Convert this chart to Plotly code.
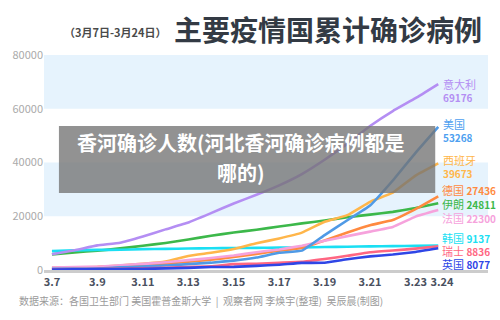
import plotly.graph_objects as go

dates = ["3.7", "3.8", "3.9", "3.10", "3.11", "3.12", "3.13", "3.14", "3.15",
         "3.16", "3.17", "3.18", "3.19", "3.20", "3.21", "3.22", "3.23", "3.24"]
tick_labels = ["3.7", "3.9", "3.11", "3.13", "3.15", "3.17", "3.19", "3.21", "3.23", "3.24"]

italy = [5883, 7375, 9172, 10149, 12462, 15113, 17660, 21157, 24747, 27980, 31506, 35713, 41035, 47021, 53578, 59138, 63927, 69176]
usa = [402, 518, 583, 959, 1281, 1663, 2179, 2727, 3499, 4632, 6421, 7200, 13000, 18500, 24000, 33300, 43600, 53268]
spain = [500, 673, 1073, 1695, 2277, 3146, 5232, 6391, 7798, 9942, 11748, 13910, 17963, 20410, 25374, 28768, 35136, 39673]
germany = [795, 902, 1139, 1296, 1567, 2369, 3062, 3795, 4838, 6012, 7156, 8198, 10999, 13957, 16662, 18610, 22672, 27436]
iran = [5823, 6566, 7161, 8042, 9000, 10075, 11364, 12729, 13938, 14991, 16169, 17361, 18407, 19644, 20610, 21638, 23049, 24811]
france = [949, 1126, 1209, 1784, 2281, 2876, 3661, 4469, 5380, 6633, 7652, 9043, 10871, 12612, 14282, 16018, 19856, 22300]
korea = [7041, 7314, 7478, 7513, 7755, 7869, 7979, 8086, 8162, 8236, 8320, 8413, 8565, 8652, 8799, 8897, 8961, 9137]
swiss = [268, 337, 374, 491, 652, 858, 1139, 1359, 2200, 2330, 2700, 3028, 4075, 5294, 6575, 7245, 7948, 8836]
uk = [209, 275, 322, 384, 459, 590, 802, 1144, 1145, 1551, 1960, 2642, 2716, 4014, 5067, 5745, 6726, 8077]

names = ["意大利", "美国", "西班牙", "德国", "伊朗", "法国", "韩国", "瑞士", "英国"]
series = [italy, usa, spain, germany, iran, france, korea, swiss, uk]
colors = ["#b48ef3", "#4f9ae6", "#ffb64a", "#ff8a40", "#3cb84a", "#f6a2dc", "#1adff3", "#ff6682", "#2f46e6"]
label_colors = ["#b48ef3", "#4da0f0", "#ffb64a", "#ff8a40", "#3cb84a", "#f6a2dc", "#1adff3", "#ff6682", "#2f46e6"]

FONT = "Noto Sans CJK SC"

# pixel helpers (plot area: x 42..488, y 55..270)
L, R, T, B = 42, 488, 55, 270
def px(x):
    return (x - L) / (R - L)
def py(y):
    return (B - y) / (B - T)

fig = go.Figure()
xs = list(range(len(dates)))
order = [4, 6, 0, 2, 3, 5, 1, 7, 8]
for i in order:
    fig.add_trace(go.Scatter(
        x=xs, y=series[i], mode="lines", name=names[i],
        line=dict(color=colors[i], width=2.6, shape="spline", smoothing=0.3),
        hoverinfo="skip", showlegend=False))

tickvals = [dates.index(t) for t in tick_labels]
ticktext = ["<b>%s</b>" % t for t in tick_labels]
ticktext[-1] = "\u00a0\u00a0\u00a0<b>%s</b>" % tick_labels[-1]

# alternating bands
shapes = []
for y0, y1 in [(60000, 80000), (20000, 40000)]:
    shapes.append(dict(type="rect", xref="paper", yref="y", x0=0, x1=1, y0=y0, y1=y1,
                       fillcolor="#e6f3fd", line=dict(width=0), layer="below"))
# overlay box
shapes.append(dict(type="rect", xref="paper", yref="paper",
                   x0=px(57), x1=px(435), y0=py(193), y1=py(126),
                   fillcolor="rgba(115,115,115,0.78)", line=dict(width=0), layer="above"))

annotations = []
# titles
annotations.append(dict(text="<b>（3月7日-3月24日）</b>", x=px(114), y=py(32), xref="paper", yref="paper",
                        xanchor="center", yanchor="middle", showarrow=False,
                        font=dict(family=FONT, size=11, color="#4a4a4a")))
annotations.append(dict(text="<b>主要疫情国累计确诊病例</b>", x=px(327), y=py(29), xref="paper", yref="paper",
                        xanchor="center", yanchor="middle", showarrow=False,
                        font=dict(family=FONT, size=28, color="#333a44")))
# footer
annotations.append(dict(text="数据来源：各国卫生部门 美国霍普金斯大学  |  观察者网 李焕宇(整理)  吴辰晨(制图)",
                        x=px(15), y=py(300), xref="paper", yref="paper",
                        xanchor="left", yanchor="middle", showarrow=False,
                        font=dict(family=FONT, size=10, color="#9a9a9a")))
# overlay text
annotations.append(dict(text="<b>香河确诊人数(河北香河确诊病例都是</b>", x=px(240), y=py(142), xref="paper", yref="paper",
                        xanchor="center", yanchor="middle", showarrow=False,
                        font=dict(family=FONT, size=20, color="#ffffff")))
annotations.append(dict(text="<b>哪的)</b>", x=px(240), y=py(172), xref="paper", yref="paper",
                        xanchor="center", yanchor="middle", showarrow=False,
                        font=dict(family=FONT, size=20, color="#ffffff")))

# end labels
two_line = {0: (84, 97), 1: (124, 137), 2: (160, 173)}
one_line = {3: 190, 4: 204, 5: 218, 6: 238, 7: 251, 8: 264}
for i, (yn, yv) in two_line.items():
    annotations.append(dict(text=names[i], x=px(441), y=py(yn), xref="paper", yref="paper",
                            xanchor="left", yanchor="middle", showarrow=False, height=12,
                            font=dict(family=FONT, size=11, color=label_colors[i])))
    annotations.append(dict(text="<b>%d</b>" % series[i][-1], x=px(441), y=py(yv), xref="paper", yref="paper",
                            xanchor="left", yanchor="middle", showarrow=False, height=12,
                            font=dict(family=FONT, size=10, color=label_colors[i])))
for i, yn in one_line.items():
    annotations.append(dict(text="%s <b><span style='font-size:10px'>%d</span></b>" % (names[i], series[i][-1]),
                            x=px(440), y=py(yn), xref="paper", yref="paper",
                            xanchor="left", yanchor="middle", showarrow=False, height=12,
                            font=dict(family=FONT, size=11, color=label_colors[i])))

fig.update_layout(
    width=500, height=320,
    margin=dict(l=L, r=500 - R, t=T, b=320 - B, pad=0),
    paper_bgcolor="#ffffff", plot_bgcolor="#ffffff",
    shapes=shapes, annotations=annotations,
    font=dict(family=FONT),
    xaxis=dict(range=[-0.35, 19.19], tickvals=tickvals,
               ticktext=ticktext, tickangle=0,
               tickfont=dict(family=FONT, size=11, color="#4a5060"),
               showgrid=False, zeroline=False, showline=True, linecolor="#cccccc", linewidth=3,
               ticks="", fixedrange=True),
    yaxis=dict(range=[0, 80000], tickvals=[0, 20000, 40000, 60000, 80000],
               ticktext=["0", "20000", "40000", "60000", "80000"],
               tickfont=dict(family=FONT, size=11, color="#aaaaaa"),
               showgrid=False, zeroline=False, showline=False, ticks="", fixedrange=True),
)

fig.write_html("out.html")
